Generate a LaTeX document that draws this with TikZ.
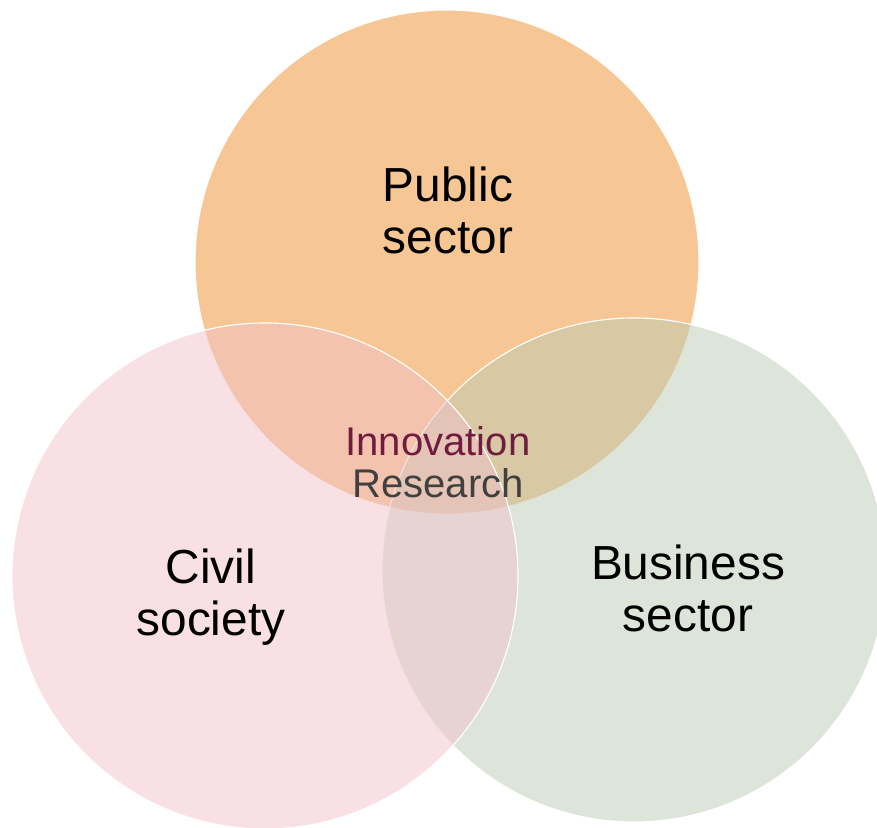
\documentclass[tikz,border=0pt]{standalone}
\usepackage{fontspec}
\setmainfont{Liberation Sans}
\usepackage{tikz}

\definecolor{PublicOrange}{RGB}{246,198,148}
\definecolor{CivilPink}{RGB}{241,193,201}
\definecolor{BusinessGreen}{RGB}{187,203,181}
\definecolor{InnoRed}{RGB}{112,28,62}
\definecolor{ResGray}{RGB}{64,64,64}

\begin{document}
\begin{tikzpicture}
	\useasboundingbox (0, 0) rectangle (21.925, 20.7);

	\node[circle, draw=white, line width=0.8pt, fill=PublicOrange, minimum size=12.6cm, inner sep=0] at (11.175, 14.15) (pub) {};
	\node[circle, draw=white, line width=0.8pt, fill=BusinessGreen, fill opacity=0.5, minimum size=12.6cm, inner sep=0] at (15.85, 6.45) (bus) {};
	\node[circle, draw=white, line width=0.8pt, fill=CivilPink, fill opacity=0.5, minimum size=12.65cm, inner sep=0] at (6.625, 6.3) (civ) {};

	\node[align=center, font=\fontsize{34}{37}\selectfont] at (11.2, 15.45) (publbl) {Public\\sector};
	\node[align=center, font=\fontsize{34}{37}\selectfont] at (5.275, 5.775) (civlbl) {Civil\\society};
	\node[align=center, font=\fontsize{34}{37}\selectfont] at (17.2, 6.0) (buslbl) {Business\\sector};

	\node[align=center, font=\fontsize{28.5}{30}\selectfont] at (10.95, 9.15) (mid) {\textcolor{InnoRed}{Innovation}\\\textcolor{ResGray}{Research}};
\end{tikzpicture}
\end{document}
